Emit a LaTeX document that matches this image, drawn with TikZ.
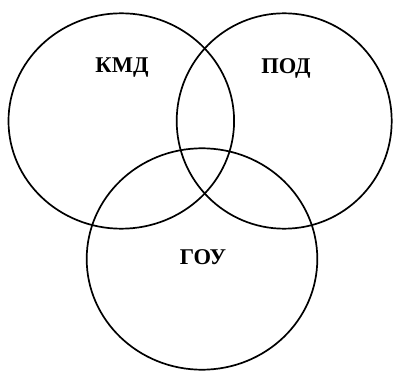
\documentclass[tikz,border=0pt]{standalone}
\usepackage{fontspec}
\setmainfont{Liberation Serif}
\begin{document}
\begin{tikzpicture}[x=1pt,y=-1pt,
  ring/.style={draw=black,line width=1.7pt},
  lbl/.style={font=\fontsize{22.5}{26}\selectfont\bfseries,inner sep=0pt}]
\useasboundingbox (0,0) rectangle (393,371);
\draw[ring] (121.3,121) ellipse [x radius=112.8, y radius=107.7];
\draw[ring] (284.2,121) ellipse [x radius=107.5, y radius=107.7];
\draw[ring] (202,259) ellipse [x radius=115.3, y radius=110.7];
\node[lbl] (kmd) at (122,68) {КМД};
\node[lbl] (pod) at (286,68) {ПОД};
\node[lbl] (gou) at (203,257) {ГОУ};
\end{tikzpicture}
\end{document}
